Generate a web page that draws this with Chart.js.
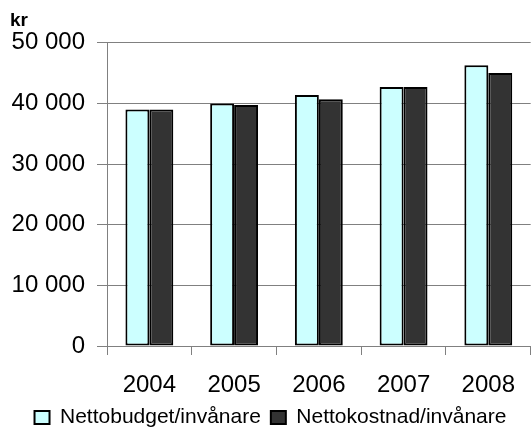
<!DOCTYPE html>
<html lang="sv">
<head>
    <meta charset="UTF-8">
    <title>Nettobudget och nettokostnad per invånare</title>
    <script src="https://cdn.jsdelivr.net/npm/chart.js"></script>
    <style>
        html, body { margin: 0; padding: 0; background: #ffffff; }
        .graph { width: 531px; height: 427px; }
    </style>
</head>
<body>
    <div class="graph">
        <canvas id="myChartCanvas"></canvas>
    </div>

<script>
    // data
    const ar = ["2004", "2005", "2006", "2007", "2008"];
    const nettobudget = [39000, 40000, 41400, 42700, 46300];
    const nettokostnad = [39000, 39750, 40700, 42700, 45000];
    const yTicks = [0, 10000, 20000, 30000, 40000, 50000];

    const fontFamily = "'Liberation Sans', Arial, sans-serif";
    const gra = '#808080';

    function formatera(v) {
        return String(v).replace(/\B(?=(\d{3})+(?!\d))/g, ' ');
    }

    // legenden ska ligga nära nederkanten
    const legendHojd = {
        id: 'legendHojd',
        beforeInit(chart) {
            const fit = chart.legend.fit;
            chart.legend.fit = function () {
                fit.bind(chart.legend)();
                this.height = 30;
            };
        }
    };

    let ctx = document.getElementById("myChartCanvas").getContext("2d");

    let myChart = new Chart(ctx, {
        type: 'bar',
        data: {
            labels: ar,
            datasets: [{
                label: "Nettobudget/invånare",
                data: nettobudget,
                backgroundColor: '#ccffff',
                borderColor: '#000000',
                borderWidth: 2,
                borderSkipped: false
            }, {
                label: "Nettokostnad/invånare",
                data: nettokostnad,
                backgroundColor: '#333333',
                borderColor: '#000000',
                borderWidth: 2,
                borderSkipped: false
            }]
        },
        options: {
            responsive: true,
            maintainAspectRatio: false,
            animation: false,
            layout: { padding: { left: 10, right: 0, top: 0, bottom: 0 } },
            datasets: {
                bar: { categoryPercentage: 0.565, barPercentage: 1.0 }
            },
            scales: {
                x: {
                    afterFit: function (axis) {
                        axis.height = 51;
                    },
                    grid: {
                        offset: true,
                        drawOnChartArea: false,
                        drawTicks: true,
                        tickLength: 9,
                        color: gra
                    },
                    border: { color: gra, width: 1 },
                    ticks: {
                        color: '#000000',
                        padding: 16,
                        font: { family: fontFamily, size: 24 }
                    }
                },
                y: {
                    min: 0,
                    max: 50000,
                    afterBuildTicks: function (axis) {
                        axis.ticks = yTicks.map(v => ({ value: v }));
                    },
                    afterFit: function (axis) {
                        axis.width = 97;
                    },
                    grid: {
                        color: gra,
                        tickLength: 10,
                        drawTicks: true
                    },
                    border: { color: gra, width: 1 },
                    ticks: {
                        color: '#000000',
                        padding: 12,
                        font: { family: fontFamily, size: 24 },
                        callback: function (v) { return formatera(v); }
                    }
                }
            },
            plugins: {
                title: {
                    display: true,
                    text: 'kr',
                    align: 'start',
                    color: '#000000',
                    font: { family: fontFamily, size: 19, weight: 'bold' },
                    padding: { top: 9, bottom: 11 }
                },
                legend: {
                    position: 'bottom',
                    labels: {
                        color: '#000000',
                        boxWidth: 15,
                        boxHeight: 13,
                        padding: 10,
                        font: { family: fontFamily, size: 21 }
                    }
                },
                tooltip: { enabled: false }
            }
        },
        plugins: [legendHojd]
    });
</script>
</body>
</html>
